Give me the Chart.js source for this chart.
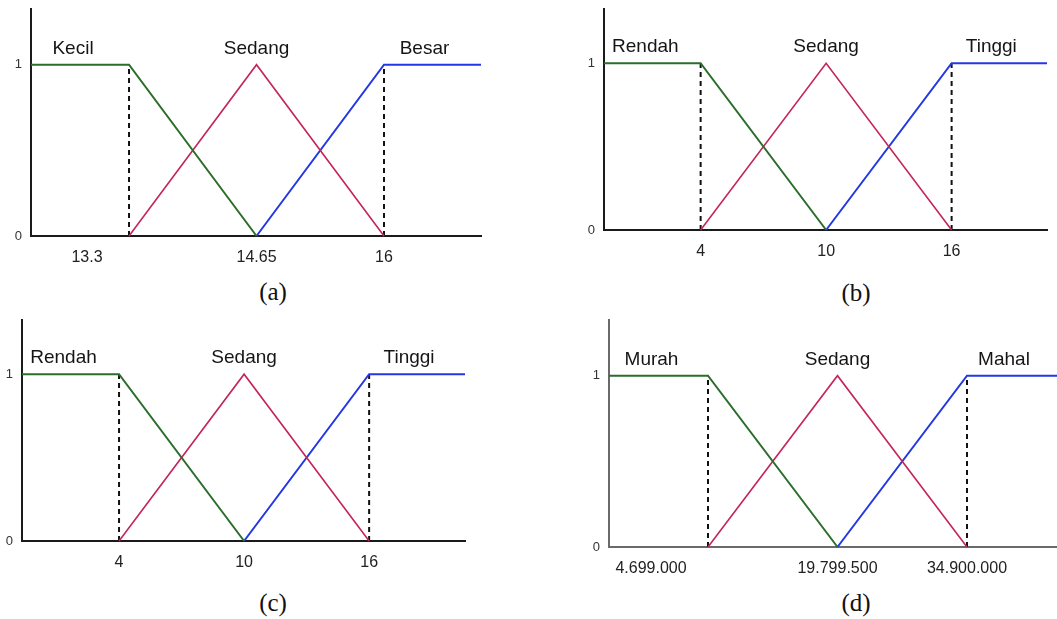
<!DOCTYPE html>
<html>
<head>
<meta charset="utf-8">
<script src="https://cdn.jsdelivr.net/npm/chart.js@4"></script>
<style>
  body { margin: 0; background: #fff; width: 1057px; height: 619px; overflow: hidden; position: relative; }
  canvas { position: absolute; }
  .cap { position: absolute; font: 25px "Liberation Serif", "Times New Roman", serif; color: #111; transform: translate(-50%, -50%); }
</style>
</head>
<body>
<canvas id="chartA"></canvas>
<canvas id="chartB"></canvas>
<canvas id="chartC"></canvas>
<canvas id="chartD"></canvas>
<div class="cap" style="left:273px;top:292px">(a)</div>
<div class="cap" style="left:856px;top:293px">(b)</div>
<div class="cap" style="left:273px;top:603px">(c)</div>
<div class="cap" style="left:856px;top:603px">(d)</div>
<script>
// membership shapes, read at [axis start, b1, b2, b3, axis end]
const lowMembership  = [1, 1, 0, null, null];
const midMembership  = [null, 0, 1, 0, null];
const highMembership = [null, null, 0, 1, 1];
const guideMembership = [0, 1];
const yTickLabels = ['0', '1'];

// (a)
const aBreaks = [13.3, 14.65, 16];
const aTerms = ['Kecil', 'Sedang', 'Besar'];
const aTickValues = [12.855, 14.65, 16];
const aTickLabels = ['13.3', '14.65', '16'];

// (b)
const bBreaks = [4, 10, 16];
const bTerms = ['Rendah', 'Sedang', 'Tinggi'];
const bTickValues = [4, 10, 16];
const bTickLabels = ['4', '10', '16'];

// (c)
const cBreaks = [4, 10, 16];
const cTerms = ['Rendah', 'Sedang', 'Tinggi'];
const cTickValues = [4, 10, 16];
const cTickLabels = ['4', '10', '16'];

// (d)
const dBreaks = [4699000, 19799500, 34900000];
const dTerms = ['Murah', 'Sedang', 'Mahal'];
const dTickValues = [-1947600, 19799500, 34900000];
const dTickLabels = ['4.699.000', '19.799.500', '34.900.000'];

const GREEN = '#2b6d2b';
const RED = '#c4265a';
const BLUE = '#2338e2';
const FONT = '"Liberation Sans", Arial, sans-serif';

// term names over the three shapes
const termLabels = {
    id: 'termLabels',
    afterDatasetsDraw(chart, args, opts) {
        const x = chart.scales.x, y = chart.scales.y;
        const b = opts.breaks;
        const ctx = chart.ctx;
        const ty = y.getPixelForValue(1) - 16;
        const xs = [
            (x.left + x.getPixelForValue(b[0])) / 2 - 7,
            x.getPixelForValue(b[1]),
            (x.getPixelForValue(b[2]) + x.right) / 2 - 8
        ];
        ctx.save();
        ctx.font = '19px ' + FONT;
        ctx.fillStyle = '#151515';
        ctx.textAlign = 'center';
        ctx.textBaseline = 'middle';
        opts.terms.forEach((t, i) => ctx.fillText(t, xs[i], ty));
        ctx.restore();
    }
};

function makePanel(id, box, range, breaks, terms, tickValues, tickLabels, axisColor) {
    const Y_W = 22, X_H = 40, PAD_T = 9;
    const canvas = document.getElementById(id);
    canvas.width = Y_W + (box.right - box.left) + box.padRight;
    canvas.height = PAD_T + (box.bottom - box.top) + X_H;
    canvas.style.left = (box.left - Y_W) + 'px';
    canvas.style.top = (box.top - PAD_T) + 'px';

    const xs = [range[0], breaks[0], breaks[1], breaks[2], range[1]];
    const toPoints = vals => vals
        .map((v, i) => (v === null ? null : { x: xs[i], y: v }))
        .filter(Boolean);
    const guide = bx => guideMembership.map(v => ({ x: bx, y: v }));

    const line = (data, color, width) => ({
        data: data, borderColor: color, borderWidth: width,
        pointRadius: 0, showLine: true, fill: false, clip: false
    });

    new Chart(canvas, {
        type: 'scatter',
        data: {
            datasets: [
                line(toPoints(lowMembership), GREEN, 2),
                line(toPoints(midMembership), RED, 1.6),
                line(toPoints(highMembership), BLUE, 2),
                Object.assign(line(guide(breaks[0]), '#111', 2), { borderDash: [5, 4] }),
                Object.assign(line(guide(breaks[2]), '#111', 2), { borderDash: [5, 4] })
            ]
        },
        options: {
            responsive: false,
            animation: false,
            events: [],
            layout: { padding: { top: PAD_T, right: box.padRight, bottom: 0, left: 0 } },
            plugins: {
                legend: { display: false },
                tooltip: { enabled: false },
                termLabels: { breaks: breaks, terms: terms }
            },
            scales: {
                x: {
                    type: 'linear',
                    min: range[0],
                    max: range[1],
                    grid: { display: false, drawTicks: false },
                    border: { color: axisColor, width: 2 },
                    afterBuildTicks: s => { s.ticks = tickValues.map(v => ({ value: v })); },
                    afterFit: s => {
                        s.height = X_H;
                        s.paddingLeft = 0; s.paddingRight = 0;
                    },
                    ticks: {
                        padding: 12, autoSkip: false, maxRotation: 0,
                        color: '#222', font: { family: FONT, size: 16 },
                        callback: (v, i) => tickLabels[i]
                    }
                },
                y: {
                    type: 'linear',
                    min: 0,
                    max: 1.325,
                    grid: { display: false, drawTicks: false },
                    border: { color: axisColor, width: 2 },
                    afterBuildTicks: s => { s.ticks = [{ value: 0 }, { value: 1 }]; },
                    afterFit: s => {
                        s.width = Y_W;
                        s.paddingTop = 0; s.paddingBottom = 0;
                    },
                    ticks: {
                        padding: 9, color: '#333', font: { family: FONT, size: 13 },
                        callback: (v, i) => yTickLabels[i]
                    }
                }
            }
        },
        plugins: [termLabels]
    });
}

makePanel('chartA', { left: 31, top: 9, right: 481, bottom: 236, padRight: 19 },
    [12.262, 17.027], aBreaks, aTerms, aTickValues, aTickLabels, '#1a1a1a');
makePanel('chartB', { left: 604, top: 9, right: 1047, bottom: 230, padRight: 10 },
    [-0.62, 20.56], bBreaks, bTerms, bTickValues, bTickLabels, '#1a1a1a');
makePanel('chartC', { left: 22, top: 320, right: 465, bottom: 541, padRight: 20 },
    [-0.656, 20.6], cBreaks, cTerms, cTickValues, cTickLabels, '#1a1a1a');
makePanel('chartD', { left: 609, top: 320, right: 1057, bottom: 547, padRight: 0 },
    [-6845000, 45395000], dBreaks, dTerms, dTickValues, dTickLabels, '#6a6a6a');
</script>
</body>
</html>
